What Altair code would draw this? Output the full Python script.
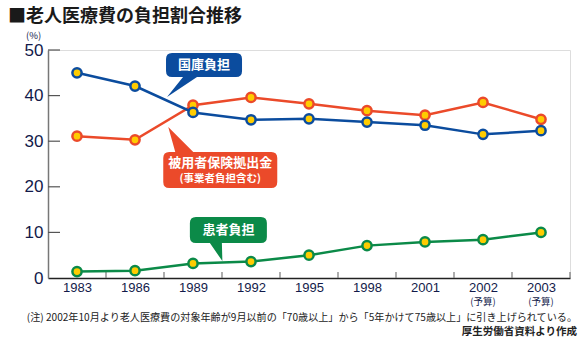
import altair as alt
import pandas as pd

# ---- data ----
years = ["1983", "1986", "1989", "1992", "1995", "1998", "2001", "2002", "2003"]
kokko = [45.0, 42.1, 36.3, 34.7, 34.9, 34.2, 33.5, 31.5, 32.3]
hiyousha = [31.1, 30.3, 37.9, 39.6, 38.2, 36.7, 35.7, 38.5, 34.8]
kanja = [1.4, 1.6, 3.2, 3.6, 5.0, 7.1, 7.9, 8.4, 10.0]
series_names = ["被用者保険拠出金", "国庫負担", "患者負担"]
series_colors = ["#eb4a2a", "#0b4c9e", "#0b8a48"]
y_ticks = [0, 10, 20, 30, 40, 50]
budget_label = "(予算)"
budget_idx = [7, 8]

callout_text = ["国庫負担", "被用者保険拠出金", "患者負担"]
callout_sub = ["", "(事業者負担含む)", ""]
callout_x = [2.19, 2.47, 2.61]
callout_y = [46.7, 23.7, 10.5]

title_text = "■老人医療費の負担割合推移"
note_text = "(注) 2002年10月より老人医療費の対象年齢が9月以前の「70歳以上」から「5年かけて75歳以上」に引き上げられている。"
source_text = "厚生労働省資料より作成"

rows = []
for name, vals in zip(series_names, [hiyousha, kokko, kanja]):
    for i, v in enumerate(vals):
        rows.append({"series": name, "idx": i, "value": v})
df = pd.DataFrame(rows)

W, H = 522, 228
FONT = "Noto Sans CJK JP"
NAVY = "#121a4a"

label_expr = "[" + ",".join(f"'{y}'" for y in years) + "][datum.value]"

x_scale = alt.Scale(domain=[-0.5, 8.5], nice=False, zero=False)
y_scale = alt.Scale(domain=[0, 50], nice=False)
color_scale = alt.Scale(domain=series_names, range=series_colors)

xenc = alt.X("idx:Q", scale=x_scale,
             axis=alt.Axis(values=list(range(len(years))), labelExpr=label_expr, ticks=False,
                           grid=False, title=None, domainColor="#222", domainWidth=1.5,
                           labelFontSize=13, labelColor=NAVY, labelFont="Liberation Sans",
                           labelPadding=3))
yenc = alt.Y("value:Q", scale=y_scale,
             axis=alt.Axis(values=y_ticks, ticks=False, grid=False, domainColor="#777",
                           domainWidth=1.5, labelFontSize=17, labelColor=NAVY,
                           labelFont="Liberation Sans", labelPadding=5,
                           title="(%)", titleAngle=0, titleX=-15, titleY=-15,
                           titleFontSize=9.5, titleFontWeight="normal", titleColor=NAVY,
                           titleFont=FONT, titleAlign="center", titleBaseline="middle"))

base = alt.Chart(df)
lines = base.mark_line(strokeWidth=2.5).encode(
    x=xenc, y=yenc,
    color=alt.Color("series:N", scale=color_scale, legend=None),
    order="idx:Q",
)
points = base.mark_circle(fill="#ffcc00", size=85, strokeWidth=2.5, opacity=1).encode(
    x="idx:Q", y="value:Q",
    stroke=alt.Stroke("series:N", scale=color_scale, legend=None),
)

# inward ticks
ytick_df = pd.DataFrame({"v": y_ticks[1:]})
yticks = alt.Chart(ytick_df).mark_rule(color="#555", strokeWidth=1.2).encode(
    y="v:Q", x=alt.value(0), x2=alt.value(12))
xtick_df = pd.DataFrame({"b": [i + 0.5 for i in range(len(years))]})
xticks = alt.Chart(xtick_df).mark_rule(color="#777", strokeWidth=1.2).encode(
    x="b:Q", y=alt.value(H), y2=alt.value(H - 6))

# (予算) labels
bud_df = pd.DataFrame({"idx": budget_idx, "t": [budget_label] * len(budget_idx)})
budget = alt.Chart(bud_df).mark_text(font=FONT, fontSize=9.5, color=NAVY, baseline="middle").encode(
    x="idx:Q", y=alt.value(H + 24), text="t:N")

# callouts
paths = [
    "M -32 -12 L 32 -12 Q 38 -12 38 -6 L 38 6 Q 38 12 32 12 L -7 12 L -37 32 L -21 12 L -32 12 Q -38 12 -38 6 L -38 -6 Q -38 -12 -32 -12 Z",
    "M -51 -18 L -45 -18 L -52 -43 L -27 -18 L 51 -18 Q 57 -18 57 -12 L 57 12 Q 57 18 51 18 L -51 18 Q -57 18 -57 12 L -57 -12 Q -57 -18 -51 -18 Z",
    "M -32.5 -13 L 32.5 -13 Q 38.5 -13 38.5 -7 L 38.5 7 Q 38.5 13 32.5 13 L -6.5 13 L -6 31 L -18.5 13 L -32.5 13 Q -38.5 13 -38.5 7 L -38.5 -7 Q -38.5 -13 -32.5 -13 Z",
]
callout_colors = [series_colors[1], series_colors[0], series_colors[2]]
callout_layers = []
for i in range(3):
    cdf = pd.DataFrame({"x": [callout_x[i]], "y": [callout_y[i]],
                        "t": [callout_text[i]], "s": [callout_sub[i]]})
    c = alt.Chart(cdf)
    callout_layers.append(c.mark_point(shape=paths[i], size=4, filled=True, opacity=1,
                                       color=callout_colors[i], strokeWidth=0).encode(
        x="x:Q", y="y:Q"))
    if callout_sub[i]:
        callout_layers.append(c.mark_text(font=FONT, fontSize=13, fontWeight="bold", color="white",
                                          dy=-7).encode(x="x:Q", y="y:Q", text="t:N"))
        callout_layers.append(c.mark_text(font=FONT, fontSize=10.5, fontWeight="bold", color="white",
                                          dy=9).encode(x="x:Q", y="y:Q", text="s:N"))
    else:
        callout_layers.append(c.mark_text(font=FONT, fontSize=13, fontWeight="bold", color="white",
                                          dy=0).encode(x="x:Q", y="y:Q", text="t:N"))

note_df = pd.DataFrame({"t": [note_text]})
note = alt.Chart(note_df).mark_text(font=FONT, fontSize=10.1, color="#222", align="right",
                                     baseline="middle").encode(
    x=alt.value(W + 7), y=alt.value(H + 40), text="t:N")
src_df = pd.DataFrame({"t": [source_text]})
src = alt.Chart(src_df).mark_text(font=FONT, fontSize=10.5, color="#222", align="right",
                                   baseline="middle", fontWeight="bold").encode(
    x=alt.value(W + 7), y=alt.value(H + 54), text="t:N")

chart = alt.layer(yticks, xticks, lines, points, budget, *callout_layers, note, src).properties(
    width=W, height=H,
    title=alt.TitleParams(title_text, anchor="start", frame="group", dx=-40, fontSize=18, font=FONT,
                          fontWeight="bold", color="#1a1a1a", offset=4),
    autosize=alt.AutoSizeParams(type="none"),
    padding={"left": 48, "top": 50, "right": 14, "bottom": 72},
).configure_view(stroke=None).configure(background="white")

chart.save("out.html", embed_options={"renderer": "svg", "actions": False})
